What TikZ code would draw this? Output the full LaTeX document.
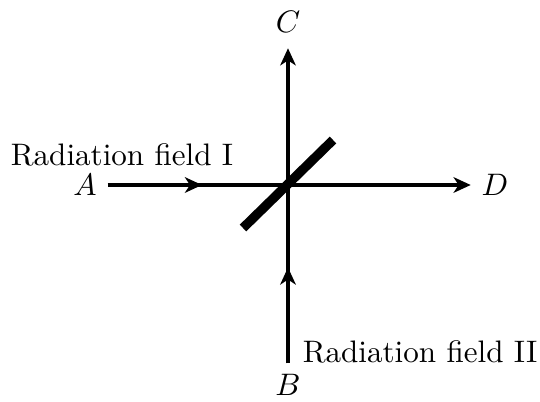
\documentclass[tikz,border=0pt]{standalone}
\usepackage{amsmath, amssymb}
\usepackage{tikz}
\usetikzlibrary{arrows.meta,positioning,calc,decorations.markings}

\begin{document}
\begin{tikzpicture}[x=0.0113cm, y=-0.0113cm,
    beam/.style={line width=1pt, -{Stealth[length=5.5pt,width=5pt,inset=1.6pt]}},
    midarrow/.style={postaction={decorate}, decoration={markings,
        mark=at position #1 with {\arrow{Stealth[length=5.5pt,width=5pt,inset=1.6pt]}}}},
    splitter/.style={line width=3pt}]
  \useasboundingbox (0,0) rectangle (540,402);
  % ports
  \node (A) at (85,185) {$A$};
  \node (D) at (495,185) {$D$};
  \node (C) at (288,22) {$C$};
  \node (B) at (288,385) {$B$};
  \coordinate (O) at (288,185);
  % labels
  \node (fieldI) at (122,155) {Radiation field I};
  \node (fieldII) at (420,352) {Radiation field II};
  % beams
  \draw[beam, midarrow=0.26, shorten <=0pt, shorten >=0pt] (A) -- (D);
  \draw[beam, midarrow=0.30, shorten <=0pt, shorten >=1.5pt] (B) -- (C);
  % beam splitter
  \draw[splitter] ($(O)+(-45,43)$) -- ($(O)+(45,-45)$);
\end{tikzpicture}
\end{document}
